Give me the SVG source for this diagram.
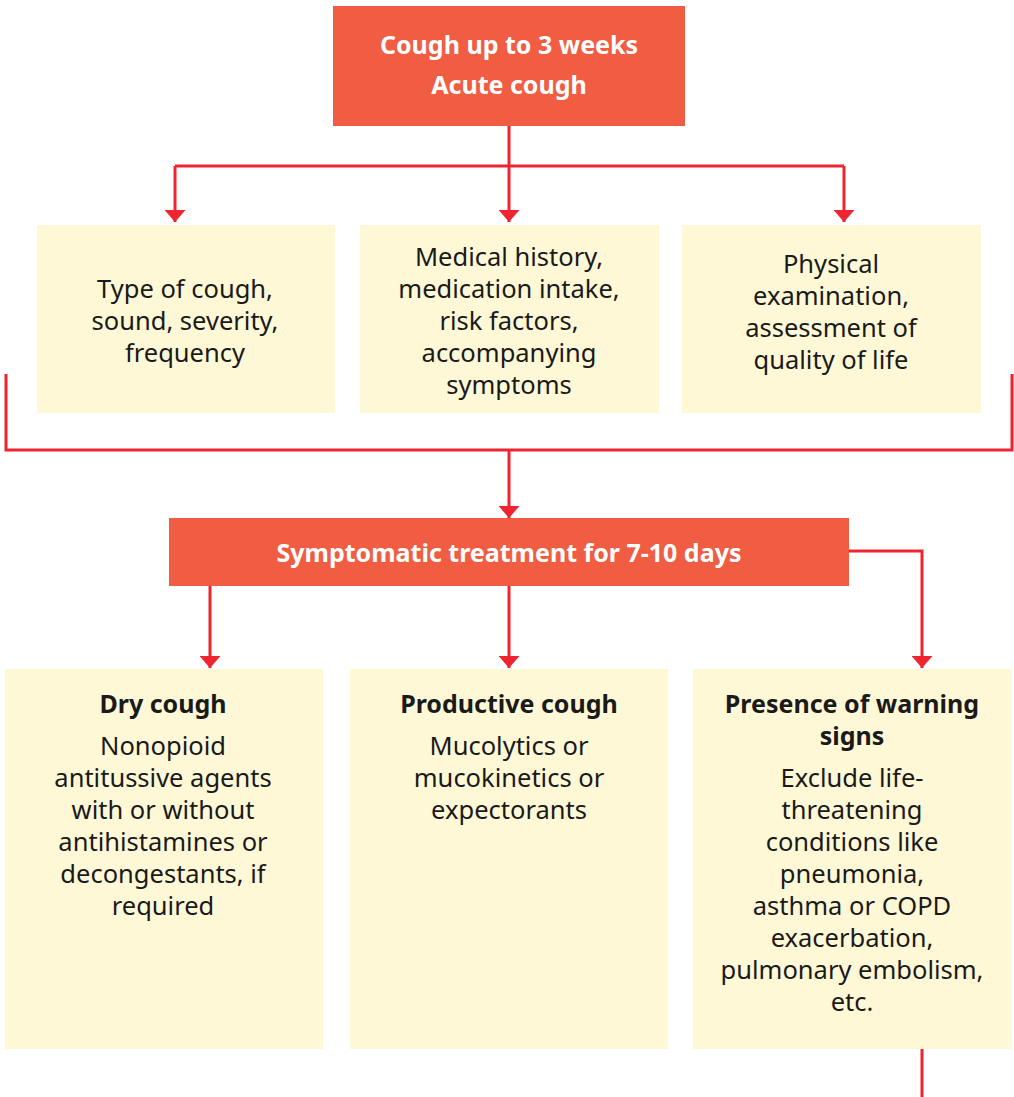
<svg xmlns="http://www.w3.org/2000/svg" width="1014" height="1097" viewBox="0 0 1014 1097">
<defs>
<style>
.hdr{fill:#f05d42}
.box{fill:#fef8d6}
.ln{stroke:#ee2530;stroke-width:3;fill:none}
.t{font-family:"Noto Sans","Open Sans",sans-serif;font-size:25.5px;fill:#1a1a1a;text-anchor:middle}
.tb{font-family:"Noto Sans","Open Sans",sans-serif;font-size:25px;font-weight:bold;fill:#1a1a1a;text-anchor:middle}
.tw{font-family:"Noto Sans","Open Sans",sans-serif;font-size:25px;font-weight:bold;fill:#ffffff;text-anchor:middle}
</style>
<marker id="ah" markerWidth="4" markerHeight="7" refX="4" refY="3.5" orient="auto" markerUnits="strokeWidth" viewBox="0 0 4 7">
<path d="M0,0 L4,3.5 L0,7 Z" fill="#ee2530"/>
</marker>
</defs>
<rect width="1014" height="1097" fill="#ffffff"/>
<g id="connectors">
<path class="ln" d="M509,126 V222" marker-end="url(#ah)"/>
<path class="ln" d="M175,166 H844"/>
<path class="ln" d="M175,166 V222" marker-end="url(#ah)"/>
<path class="ln" d="M844,166 V222" marker-end="url(#ah)"/>
<path class="ln" d="M6,374 V450 H1012 V374"/>
<path class="ln" d="M509,450 V518" marker-end="url(#ah)"/>
<path class="ln" d="M210,586 V668" marker-end="url(#ah)"/>
<path class="ln" d="M509,586 V668" marker-end="url(#ah)"/>
<path class="ln" d="M849,551 H922 V668" marker-end="url(#ah)"/>
<path class="ln" d="M922,1049 V1097"/>
</g>
<g id="acute">
<rect class="hdr" x="333" y="6" width="352" height="120"/>
<text class="tw" x="509" y="54">Cough up to 3 weeks</text>
<text class="tw" x="509" y="94">Acute cough</text>
</g>
<g id="type">
<rect class="box" x="37" y="225" width="298" height="188"/>
<text class="t" x="185" y="298">Type of cough,</text>
<text class="t" x="185" y="330">sound, severity,</text>
<text class="t" x="185" y="362">frequency</text>
</g>
<g id="history">
<rect class="box" x="360" y="225" width="299" height="188"/>
<text class="t" x="509" y="266">Medical history,</text>
<text class="t" x="509" y="298">medication intake,</text>
<text class="t" x="509" y="330">risk factors,</text>
<text class="t" x="509" y="362">accompanying</text>
<text class="t" x="509" y="394">symptoms</text>
</g>
<g id="exam">
<rect class="box" x="682" y="225" width="299" height="188"/>
<text class="t" x="831" y="273">Physical</text>
<text class="t" x="831" y="305">examination,</text>
<text class="t" x="831" y="337">assessment of</text>
<text class="t" x="831" y="369">quality of life</text>
</g>
<g id="symptomatic">
<rect class="hdr" x="169" y="518" width="680" height="68"/>
<text class="tw" x="509" y="562">Symptomatic treatment for 7-10 days</text>
</g>
<g id="dry">
<rect class="box" x="5" y="669" width="318" height="380"/>
<text class="tb" x="163" y="713">Dry cough</text>
<text class="t" x="163" y="755">Nonopioid</text>
<text class="t" x="163" y="787">antitussive agents</text>
<text class="t" x="163" y="819">with or without</text>
<text class="t" x="163" y="851">antihistamines or</text>
<text class="t" x="163" y="883">decongestants, if</text>
<text class="t" x="163" y="915">required</text>
</g>
<g id="productive">
<rect class="box" x="350" y="669" width="318" height="380"/>
<text class="tb" x="509" y="713">Productive cough</text>
<text class="t" x="509" y="755">Mucolytics or</text>
<text class="t" x="509" y="787">mucokinetics or</text>
<text class="t" x="509" y="819">expectorants</text>
</g>
<g id="warning">
<rect class="box" x="693" y="669" width="318" height="380"/>
<text class="tb" x="852" y="713">Presence of warning</text>
<text class="tb" x="852" y="745">signs</text>
<text class="t" x="852" y="787">Exclude life-</text>
<text class="t" x="852" y="819">threatening</text>
<text class="t" x="852" y="851">conditions like</text>
<text class="t" x="852" y="883">pneumonia,</text>
<text class="t" x="852" y="915">asthma or COPD</text>
<text class="t" x="852" y="947">exacerbation,</text>
<text class="t" x="852" y="979">pulmonary embolism,</text>
<text class="t" x="852" y="1011">etc.</text>
</g>
</svg>
